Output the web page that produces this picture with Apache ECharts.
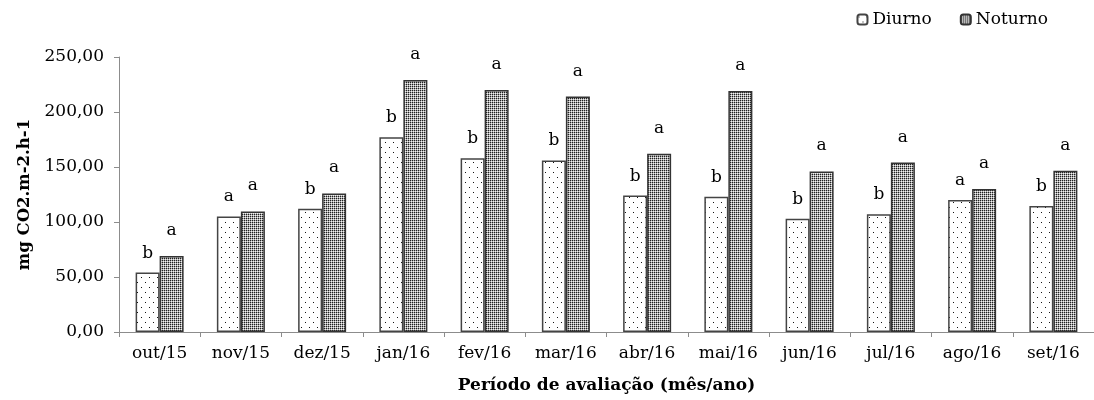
<!DOCTYPE html>
<html>
<head>
<meta charset="utf-8">
<script src="https://cdn.jsdelivr.net/npm/echarts@6/dist/echarts.min.js"></script>
<style>
html,body{margin:0;padding:0;background:#fff;}
#chart{width:1094px;height:400px;}
</style>
</head>
<body>
<div id="chart"></div>
<script>
var categories = ['out/15','nov/15','dez/15','jan/16','fev/16','mar/16','abr/16','mai/16','jun/16','jul/16','ago/16','set/16'];
var diurno = [54, 105, 112, 177, 158, 156, 124, 123, 103, 107, 120, 114.5];
var noturno = [69, 109.5, 126, 229, 220, 214, 162, 219, 146, 154, 130, 146.5];
var lettersDiurno = ['b','a','b','b','b','b','b','b','b','b','a','b'];
var lettersNoturno = ['a','a','a','a','a','a','a','a','a','a','a','a'];
var yTicks = [0, 50, 100, 150, 200, 250];

function makeTile(w, h, dots, bg) {
  var c = document.createElement('canvas');
  c.width = w; c.height = h;
  var g = c.getContext('2d');
  g.fillStyle = bg; g.fillRect(0, 0, w, h);
  dots.forEach(function (d) { g.fillStyle = d[2]; g.fillRect(d[0], d[1], 1, 1); });
  return c;
}
var tileD = makeTile(8, 10, [[1,2,'#111'],[5,7,'#111']], '#ffffff');
var tileN = makeTile(2, 2, [[0,0,'#202020'],[1,0,'#a8a8a8'],[0,1,'#a8a8a8']], '#f2f2f2');

var font = 'DejaVu Serif';
var chart = echarts.init(document.getElementById('chart'), null, {renderer: 'canvas', devicePixelRatio: 1});
chart.setOption({
  backgroundColor: '#ffffff',
  animation: false,
  textStyle: {fontFamily: font},
  legend: {
    right: 41, top: 6, itemWidth: 10, itemHeight: 10, itemGap: 28,
    textStyle: {fontFamily: font, fontSize: 17, color: '#000'},
    data: ['Diurno', 'Noturno']
  },
  grid: {left: 119, right: -5, top: 57, bottom: 68},
  xAxis: {
    type: 'category', data: categories,
    name: 'Período de avaliação (mês/ano)', nameLocation: 'middle', nameGap: 45,
    nameTextStyle: {fontFamily: font, fontSize: 17, fontWeight: 'bold', color: '#000'},
    axisLine: {lineStyle: {color: '#8c8c8c', width: 1}},
    axisTick: {show: true, length: 5, lineStyle: {color: '#8c8c8c'}},
    axisLabel: {fontFamily: font, fontSize: 17, color: '#000', margin: 13}
  },
  yAxis: {
    type: 'value', min: 0, max: 250, interval: 50,
    name: 'mg CO2.m-2.h-1', nameLocation: 'middle', nameGap: 83,
    nameTextStyle: {fontFamily: font, fontSize: 16.5, fontWeight: 'bold', color: '#000'},
    axisLine: {show: true, lineStyle: {color: '#8c8c8c', width: 1}},
    axisTick: {show: true, length: 5, inside: false, lineStyle: {color: '#8c8c8c'}},
    splitLine: {show: false},
    axisLabel: {fontFamily: font, fontSize: 17, color: '#000', margin: 15,
      formatter: function (v) { return v.toFixed(2).replace('.', ','); }}
  },
  series: [
    {
      name: 'Diurno', type: 'bar', data: diurno, barWidth: 24, barGap: '0%',
      itemStyle: {color: {image: tileD, repeat: 'repeat'}, borderColor: '#444', borderWidth: 1.5},
      label: {show: true, position: 'top', distance: 11, fontFamily: font, fontSize: 17, color: '#000',
        formatter: function (p) { return lettersDiurno[p.dataIndex]; }}
    },
    {
      name: 'Noturno', type: 'bar', data: noturno, barWidth: 24,
      itemStyle: {color: {image: tileN, repeat: 'repeat'}, borderColor: '#333', borderWidth: 1.5},
      label: {show: true, position: 'top', distance: 17, fontFamily: font, fontSize: 17, color: '#000',
        formatter: function (p) { return lettersNoturno[p.dataIndex]; }}
    }
  ]
});
</script>
</body>
</html>
